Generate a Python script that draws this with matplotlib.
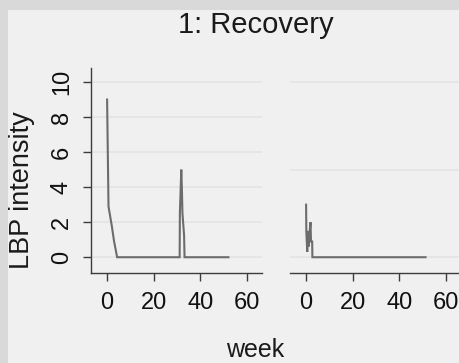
import matplotlib
matplotlib.use("Agg")
import matplotlib.pyplot as plt
from matplotlib.patches import Rectangle

# LBP intensity by week, two panels
week_a = [0, 0.3, 0.6, 2.0, 3.0, 4.3, 31.1, 31.2, 31.8, 32.1, 32.3, 33.0, 33.2, 52]
lbp_a = [9.0, 6.0, 2.9, 1.8, 0.9, 0.0, 0.0, 2.5, 5.0, 3.7, 2.5, 1.25, 0.0, 0.0]

week_b = [0, 0.1, 0.5, 0.7, 1.0, 1.4, 1.9, 2.1, 2.6, 2.7, 51.2]
lbp_b = [3.0, 1.45, 0.3, 1.5, 0.6, 1.3, 2.0, 0.9, 0.9, 0.0, 0.0]

xticks = [0, 20, 40, 60]
yticks_a = [0, 2, 4, 6, 8, 10]
grid_a = [0, 2, 4, 6, 8, 10]
grid_b = [0, 5, 10]

W, H = 460, 363
fig = plt.figure(figsize=(W / 100, H / 100), dpi=100, facecolor="#d9d9d9")
fig.patches.append(Rectangle((8 / W, 0), 1, (H - 10) / H, transform=fig.transFigure,
                             facecolor="#f0f0f0", edgecolor="none", zorder=-1))

font = "Liberation Sans"
line_col = "#6c6c6c"
axis_col = "#3c3c3c"


def panel(left, week, lbp, grid, show_y):
    ax = fig.add_axes([left / W, (H - 273) / H, 171 / W, 205 / H])
    ax.set_facecolor("none")
    for g in grid:
        ax.axhline(g, color="#e3e3e3", lw=1.2, zorder=0)
    ax.plot(week, lbp, color=line_col, lw=1.5, solid_joinstyle="miter")
    ax.set_xlim(-6.9, 66.4)
    ax.set_ylim(-0.9, 10.8)
    for s in ["top", "right"]:
        ax.spines[s].set_visible(False)
    ax.spines["bottom"].set_color(axis_col)
    ax.spines["bottom"].set_linewidth(1.0)
    ax.set_xticks(xticks)
    ax.set_xticklabels([str(t) for t in xticks], family=font, fontsize=17)
    ax.tick_params(axis="x", length=6, width=1.0, color=axis_col, pad=8,
                   labelcolor="#111111")
    if show_y:
        ax.spines["left"].set_color(axis_col)
        ax.spines["left"].set_linewidth(1.0)
        ax.set_yticks(yticks_a)
        ax.set_yticklabels([str(t) for t in yticks_a], family=font, fontsize=17,
                           rotation=90, va="center")
        ax.tick_params(axis="y", length=6, width=1.0, color=axis_col, pad=7,
                       labelcolor="#111111")
    else:
        ax.spines["left"].set_visible(False)
        ax.set_yticks([])
    return ax


panel(91, week_a, lbp_a, grid_a, True)
panel(290, week_b, lbp_b, grid_b, False)

fig.text(256 / W, 1 - 25 / H, "1: Recovery", ha="center", va="center",
         family=font, fontsize=21, color="#1a1a1a")
fig.text(22 / W, 1 - 190 / H, "LBP intensity", ha="center", va="center",
         rotation=90, family=font, fontsize=19.5, color="#1a1a1a")
fig.text(255 / W, 1 - 350 / H, "week", ha="center", va="center",
         family=font, fontsize=18, color="#1a1a1a")

fig.savefig("out.png", dpi=100, facecolor=fig.get_facecolor())
